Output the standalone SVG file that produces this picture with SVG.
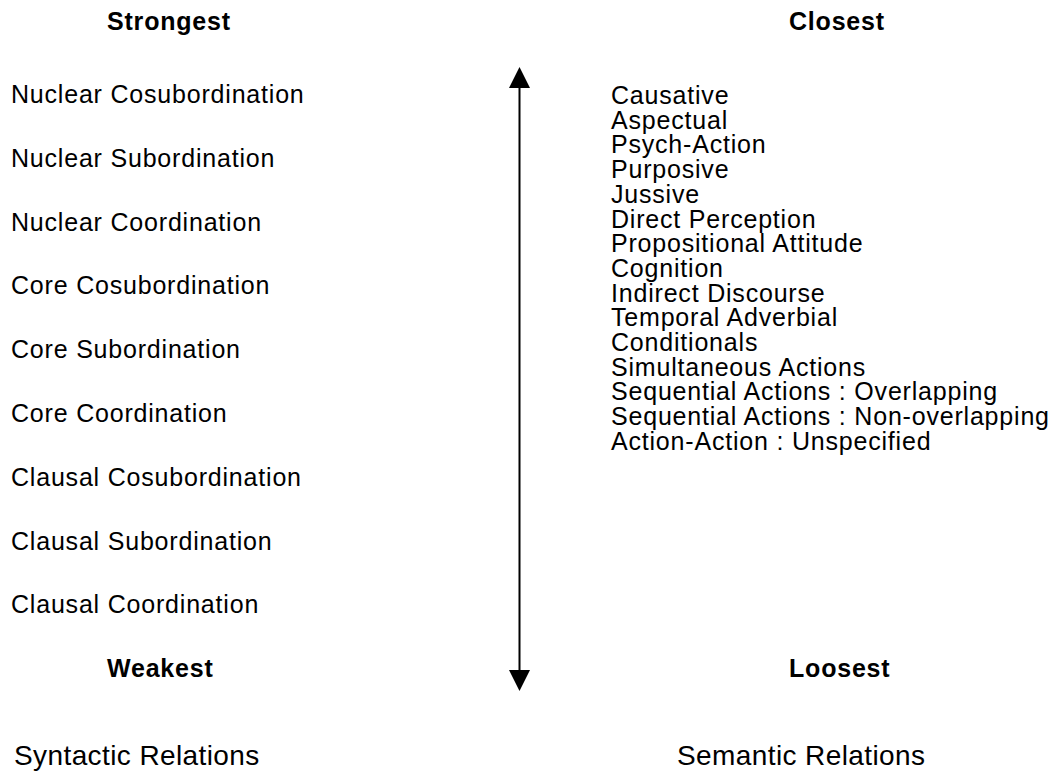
<svg xmlns="http://www.w3.org/2000/svg" width="1052" height="774" viewBox="0 0 1052 774">
<defs>
<style>
text{font-family:"Liberation Sans",Arial,sans-serif;fill:#000}
.r{font-size:25px;letter-spacing:0.8px}
.b{font-size:25px;font-weight:bold;letter-spacing:0.8px}
.t{font-size:28px;letter-spacing:0.4px}
.ln{stroke:#000;stroke-width:2;fill:none}
</style>
<marker id="ah" markerWidth="21" markerHeight="21" refX="0" refY="10.5" orient="auto-start-reverse" markerUnits="userSpaceOnUse" viewBox="0 0 21 21">
<path d="M0,0 L21,10.5 L0,21 Z" fill="#000"/>
</marker>
</defs>
<rect width="1052" height="774" fill="#fff"/>
<g id="headers">
<text class="b" x="107" y="30">Strongest</text>
<text class="b" x="789" y="30">Closest</text>
<text class="b" x="107" y="677">Weakest</text>
<text class="b" x="789" y="677">Loosest</text>
</g>
<g id="syntactic">
<text class="r" x="11" y="103">Nuclear Cosubordination</text>
<text class="r" x="11" y="167">Nuclear Subordination</text>
<text class="r" x="11" y="231">Nuclear Coordination</text>
<text class="r" x="11" y="294">Core Cosubordination</text>
<text class="r" x="11" y="358">Core Subordination</text>
<text class="r" x="11" y="422">Core Coordination</text>
<text class="r" x="11" y="486">Clausal Cosubordination</text>
<text class="r" x="11" y="550">Clausal Subordination</text>
<text class="r" x="11" y="613">Clausal Coordination</text>
</g>
<g id="semantic">
<text class="r" x="611" y="104">Causative</text>
<text class="r" x="611" y="128.7">Aspectual</text>
<text class="r" x="611" y="153.4">Psych-Action</text>
<text class="r" x="611" y="178.1">Purposive</text>
<text class="r" x="611" y="202.8">Jussive</text>
<text class="r" x="611" y="227.5">Direct Perception</text>
<text class="r" x="611" y="252.2">Propositional Attitude</text>
<text class="r" x="611" y="276.9">Cognition</text>
<text class="r" x="611" y="301.6">Indirect Discourse</text>
<text class="r" x="611" y="326.3">Temporal Adverbial</text>
<text class="r" x="611" y="351">Conditionals</text>
<text class="r" x="611" y="375.7">Simultaneous Actions</text>
<text class="r" x="611" y="400.4">Sequential Actions : Overlapping</text>
<text class="r" x="611" y="425.1">Sequential Actions : Non-overlapping</text>
<text class="r" x="611" y="449.8">Action-Action : Unspecified</text>
</g>
<g id="titles">
<text class="t" x="14" y="765">Syntactic Relations</text>
<text class="t" x="677" y="765">Semantic Relations</text>
</g>
<g id="connectors">
<line class="ln" x1="519.5" y1="88" x2="519.5" y2="670" marker-start="url(#ah)" marker-end="url(#ah)"/>
</g>
</svg>
